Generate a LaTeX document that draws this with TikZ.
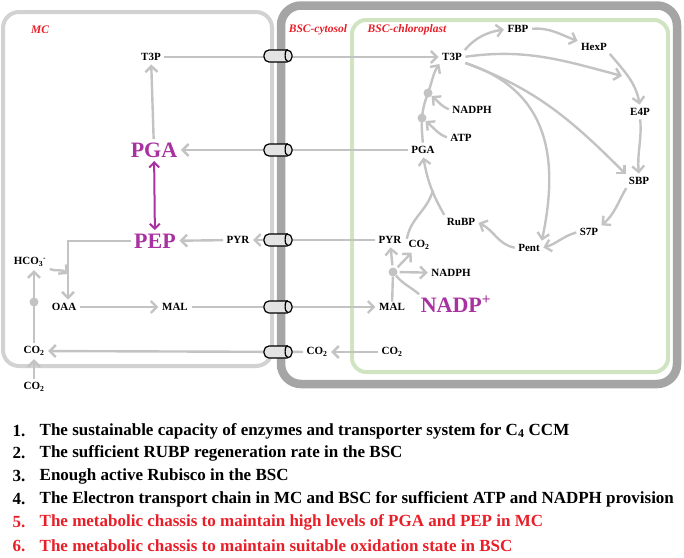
\documentclass[tikz,border=0pt]{standalone}
\usepackage{fontspec}
\setmainfont{Liberation Serif}
\usetikzlibrary{arrows.meta}
\definecolor{wallmc}{RGB}{210,210,210}
\definecolor{wallbsc}{RGB}{165,165,165}
\definecolor{wallchl}{RGB}{208,228,194}
\definecolor{flux}{RGB}{195,195,195}
\definecolor{metab}{RGB}{168,50,160}
\definecolor{zone}{RGB}{232,30,40}
\begin{document}
\begin{tikzpicture}[x=1pt, y=-1pt,
  every node/.style={font=\bfseries\fontsize{11}{12}\selectfont, inner sep=1.5pt},
  big/.style={text=metab, font=\bfseries\fontsize{22}{24}\selectfont},
  zonelabel/.style={text=zone, font=\bfseries\itshape\fontsize{11.5}{12}\selectfont},
  flow/.style={draw=flux, line width=2.4pt, shorten >=2pt, shorten <=2pt,
    -{Straight Barb[length=6pt,width=12pt]}},
  link/.style={draw=flux, line width=2.4pt},
  dot/.style={circle, fill=flux, minimum size=9pt, inner sep=0pt},
  porter/.style={rectangle, rounded corners=5pt, draw=black, line width=1.2pt,
    fill=gray!22, minimum width=28pt, minimum height=12pt, inner sep=0pt},
  item/.style={anchor=west, font=\bfseries\fontsize{17}{19}\selectfont}]
\useasboundingbox (0,0) rectangle (684,557);
\draw[wallbsc, line width=8.5pt, rounded corners=20pt] (281,5.5) rectangle (677,384);
\draw[wallchl, line width=4pt, rounded corners=14pt] (352,20) rectangle (668,372);
\draw[wallmc, line width=4pt, rounded corners=16pt] (3,12) rectangle (272,366);

\node[zonelabel] (lmc) at (40,30) {MC};
\node[zonelabel] (lcyt) at (318,30) {BSC-cytosol};
\node[zonelabel] (lchl) at (407,30) {BSC-chloroplast};

\node (t3pM) at (151,57) {T3P};
\node[big] (pgaM) at (154,150) {PGA};
\node[big] (pepM) at (155,241) {PEP};
\node (pyrM) at (238,240) {PYR};
\node (hco3) at (30,262) {HCO\textsubscript{3}\textsuperscript{-}};
\node (oaa) at (64,307) {OAA};
\node (malM) at (175,307) {MAL};
\node (co2M) at (34,351) {CO\textsubscript{2}};
\node (co2air) at (34,387) {CO\textsubscript{2}};
\node (co2C) at (317,352) {CO\textsubscript{2}};

\node (co2B) at (392,352) {CO\textsubscript{2}};
\node (malB) at (392,307) {MAL};
\node (pyrB) at (390,240) {PYR};
\node (co2R) at (419,245) {CO\textsubscript{2}};
\node (nadph1) at (451,273) {NADPH};
\node[big] (nadpP) at (456,304) {NADP\textsuperscript{+}};
\node[dot] (dotMe) at (393,272) {};

\node (t3pB) at (452,57) {T3P};
\node (pgaB) at (423,150) {PGA};
\node (fbp) at (518,29) {FBP};
\node (hexp) at (594,47) {HexP};
\node (e4p) at (640,112) {E4P};
\node (sbp) at (639,181) {SBP};
\node (s7p) at (589,232) {S7P};
\node (pent) at (529,248) {Pent};
\node (rubp) at (461,222) {RuBP};
\node (nadph2) at (472,110) {NADPH};
\node (atp) at (461,138) {ATP};
\node[dot] (dotA) at (422,118) {};
\node[dot] (dotN) at (428,93) {};
\node[dot] (dotM) at (34,302) {};
\coordinate (jHco) at (68,274);
\coordinate (jE4) at (622,76);
\coordinate (jCo) at (433,190);

\draw[flow] (t3pM) -- (t3pB);
\draw[flow] (pgaM) -- (t3pM);
\draw[flow] (pgaB) -- (pgaM);
\draw[draw=metab, line width=2pt, shorten >=2pt, shorten <=2pt,
  {Straight Barb[length=5pt,width=10pt]}-{Straight Barb[length=5pt,width=10pt]}] (pgaM) -- (pepM);
\draw[flow] (pyrM) -- (pepM);
\draw[flow] (pyrB) -- (pyrM);
\draw[flow] (pepM.west) -| ([xshift=4pt]oaa.north);
\draw[flow, shorten >=0pt] (hco3.south east) to[out=-25,in=140] (jHco);
\draw[flow] (oaa) -- (malM);
\draw[flow] (malM) -- (malB);
\draw[flow] (co2M) -- (co2M |- hco3.south);
\draw[flow] (co2air) -- (co2M);
\draw[flow] (co2C) -- (co2M);
\draw[flow] (co2B) -- (co2C);

\draw[link] (malB) -- (dotMe);
\draw[link] (nadpP.north west) to[out=140,in=-50] (dotMe);
\draw[flow] (dotMe) -- (pyrB);
\draw[flow] (dotMe) -- (co2R);
\draw[flow] (dotMe) -- (nadph1);

\draw[flow] (pgaB) to[out=92,in=-95] (dotA.center) to[out=85,in=-110] (dotN.center) to[out=70,in=-125] (t3pB.south west);
\draw[flow, shorten >=0pt] (atp.west) to[out=160,in=-40] (dotA);
\draw[flow, shorten >=0pt] (nadph2.west) to[out=160,in=-40] (dotN);
\draw[flow] (t3pB.north east) to[out=50,in=190] (fbp.west);
\draw[flow] (fbp.east) to[out=5,in=160] (hexp.north west);
\draw[flow] (hexp.south east) to[out=-50,in=100] (e4p.north);
\draw[flow, shorten >=0pt] (t3pB.east) to[out=8,in=165] (jE4);
\draw[flow] (e4p.south) to[out=-85,in=95] (sbp.north);
\draw[flow] (t3pB.south east) to[out=-20,in=135] (sbp.north west);
\draw[flow] (sbp.south west) to[out=-120,in=40] (s7p.north east);
\draw[flow] (t3pB.south east) to[out=-18,in=78,looseness=1.15] (pent.north east);
\draw[flow] (s7p.west) to[out=195,in=15] (pent.east);
\draw[flow] (pent.west) to[out=170,in=-25] (rubp.east);
\draw[flow] (rubp.north west) to[out=120,in=-80] (pgaB.south);
\draw[link] (co2R.north west) to[out=80,in=-105] (jCo);

\foreach \y/\nm in {56/tpA, 150/tpB, 240/tpC, 307/tpD, 352/tpE}{
  \node[porter] (\nm) at (278,\y) {};
  \draw[black, line width=1.2pt] ([xshift=-5pt]\nm.north east) arc[start angle=90, end angle=270, x radius=2.5pt, y radius=6pt];
}

\node[item] (n1) at (11,431) {1.};
\node[item] (n2) at (11,453) {2.};
\node[item] (n3) at (11,476) {3.};
\node[item] (n4) at (11,499) {4.};
\node[item, text=zone] (n5) at (11,522) {5.};
\node[item, text=zone] (n6) at (11,546) {6.};
\node[item] (s1) at (38,431) {The sustainable capacity of enzymes and transporter system for C\textsubscript{4} CCM};
\node[item] (s2) at (38,453) {The sufficient RUBP regeneration rate in the BSC};
\node[item] (s3) at (38,476) {Enough active Rubisco in the BSC};
\node[item] (s4) at (38,499) {The Electron transport chain in MC and BSC for sufficient ATP and NADPH provision};
\node[item, text=zone] (s5) at (38,522) {The metabolic chassis to maintain high levels of PGA and PEP in MC};
\node[item, text=zone] (s6) at (38,546) {The metabolic chassis to maintain suitable oxidation state in BSC};
\end{tikzpicture}
\end{document}
